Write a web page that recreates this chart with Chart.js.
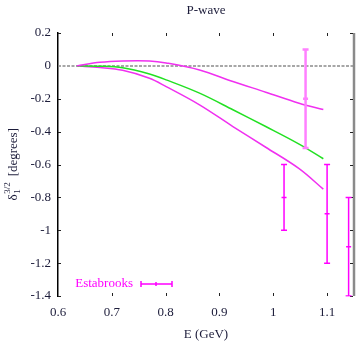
<!DOCTYPE html>
<html>
<head>
<meta charset="utf-8">
<script src="https://cdn.jsdelivr.net/npm/chart.js@4"></script>
<style>
  html, body { margin: 0; padding: 0; background: #fff; }
  #wrap { width: 360px; height: 346px; }
</style>
</head>
<body>
<div id="wrap"><canvas id="grafica" width="360" height="346"></canvas></div>
<script>
// datos
const energias = [0.635, 0.678, 0.72, 0.77, 0.801, 0.863, 0.925, 0.986, 1.048, 1.093];
const curvaSuperior = [0, 0.022, 0.03, 0.03, 0.018, -0.025, -0.095, -0.16, -0.227, -0.266];
const curvaCentral = [0, -0.002, -0.012, -0.05, -0.085, -0.166, -0.267, -0.369, -0.476, -0.565];
const curvaInferior = [0, -0.01, -0.027, -0.075, -0.126, -0.237, -0.369, -0.495, -0.625, -0.75];

// Estabrooks (centro y error)
const estE = [1.02, 1.06, 1.10, 1.14];
const estDelta = [-0.8, -0.2, -0.9, -1.1];
const estError = [0.2, 0.3, 0.3, 0.3];

const ejeX = { min: 0.6, max: 1.15, paso: 0.1 };
const ejeY = { min: -1.4, max: 0.2, paso: 0.2 };

const fuente = "'Liberation Serif', 'Times New Roman', serif";

function puntos(xs, ys) {
    return xs.map((x, i) => ({ x: x, y: ys[i] }));
}

function etiqueta(v) {
    const r = Math.round(v * 10) / 10;
    if (Math.abs(v - r) > 1e-6) return null;
    return String(r);
}

// dibuja textos, linea cero, ticks y barras de error
const extras = {
    id: 'extras',
    beforeDatasetsDraw(chart) {
        const { ctx, chartArea: a, scales: { x, y } } = chart;
        ctx.save();
        // linea en cero
        const y0 = y.getPixelForValue(0);
        ctx.strokeStyle = '#8a8a8a';
        ctx.lineWidth = 1.5;
        ctx.setLineDash([3, 1.5]);
        ctx.beginPath();
        ctx.moveTo(a.left, y0);
        ctx.lineTo(a.right, y0);
        ctx.stroke();
        ctx.setLineDash([]);

        // borde derecho gris
        ctx.strokeStyle = '#8a8a8a';
        ctx.lineWidth = 2.5;
        ctx.beginPath();
        ctx.moveTo(a.right, a.top);
        ctx.lineTo(a.right, a.bottom);
        ctx.stroke();

        // ticks hacia dentro
        ctx.strokeStyle = '#222';
        ctx.lineWidth = 1;
        ctx.beginPath();
        y.ticks.forEach(t => {
            const py = Math.round(y.getPixelForValue(t.value)) + 0.5;
            if (Math.abs(t.value) < 1e-6) return;
            ctx.moveTo(a.left, py); ctx.lineTo(a.left + 3, py);
            ctx.moveTo(a.right - 1, py); ctx.lineTo(a.right - 4, py);
        });
        x.ticks.forEach(t => {
            const px = Math.round(x.getPixelForValue(t.value)) + 0.5;
            if (px <= a.left + 1) return;
            ctx.moveTo(px, a.bottom); ctx.lineTo(px, a.bottom - 3);
            ctx.moveTo(px, a.top); ctx.lineTo(px, a.top + 3);
        });
        ctx.stroke();
        ctx.restore();
    },
    afterDatasetsDraw(chart) {
        const { ctx, chartArea: a, scales: { x, y } } = chart;
        ctx.save();
        ctx.beginPath();
        ctx.rect(a.left, a.top, a.right - a.left, a.bottom - a.top + 0.5);
        ctx.clip();
        estE.forEach((e, i) => {
            const px = x.getPixelForValue(e);
            const pc = y.getPixelForValue(estDelta[i]);
            const pa = y.getPixelForValue(estDelta[i] + estError[i]);
            const pb = y.getPixelForValue(estDelta[i] - estError[i]);
            ctx.strokeStyle = i === 1 ? '#ff80ff' : '#ff00ff';
            ctx.lineWidth = i === 1 ? 2.5 : 1.5;
            ctx.beginPath();
            ctx.moveTo(px, pa); ctx.lineTo(px, pb);
            ctx.moveTo(px - 3, pa); ctx.lineTo(px + 3, pa);
            ctx.moveTo(px - 3, pb); ctx.lineTo(px + 3, pb);
            ctx.moveTo(px - 2.5, pc); ctx.lineTo(px + 2.5, pc);
            ctx.stroke();
        });
        ctx.restore();

        ctx.save();
        // leyenda
        ctx.fillStyle = '#ff00ff';
        ctx.font = '13px ' + fuente;
        ctx.textAlign = 'right';
        ctx.textBaseline = 'middle';
        ctx.fillText('Estabrooks', 133, 284);
        ctx.strokeStyle = '#ff00ff';
        ctx.lineWidth = 1.5;
        ctx.beginPath();
        ctx.moveTo(141, 284); ctx.lineTo(172, 284);
        ctx.moveTo(141, 281); ctx.lineTo(141, 287);
        ctx.moveTo(172, 281); ctx.lineTo(172, 287);
        ctx.moveTo(156, 282); ctx.lineTo(156, 286);
        ctx.stroke();

        // titulos
        ctx.fillStyle = '#1c1c3a';
        ctx.textAlign = 'center';
        ctx.font = '13px ' + fuente;
        ctx.fillText('P-wave', (a.left + a.right) / 2, 11);
        ctx.fillText('E (GeV)', (a.left + a.right) / 2, 335);

        // titulo eje y rotado
        ctx.translate(13, (a.top + a.bottom) / 2);
        ctx.rotate(-Math.PI / 2);
        ctx.textAlign = 'left';
        ctx.textBaseline = 'alphabetic';
        const fGrande = '13px ' + fuente;
        const fChica = '9px ' + fuente;
        ctx.font = fGrande;
        const wD = ctx.measureText('δ').width;
        const wR = ctx.measureText('[degrees]').width;
        ctx.font = fChica;
        const wS = ctx.measureText('3/2').width;
        const total = wD + wS + 6 + wR;
        let cx = -total / 2;
        const base = 4;
        ctx.font = fGrande;
        ctx.fillText('δ', cx, base);
        cx += wD + 0.5;
        ctx.font = fChica;
        ctx.fillText('1', cx, base + 3);
        ctx.fillText('3/2', cx, base - 7);
        cx += wS + 6;
        ctx.font = fGrande;
        ctx.fillText('[degrees]', cx, base);
        ctx.restore();
    }
};

new Chart(document.getElementById('grafica'), {
    type: 'scatter',
    data: {
        datasets: [
            { data: puntos(energias, curvaSuperior), borderColor: '#f030f0' },
            { data: puntos(energias, curvaCentral), borderColor: '#22e022' },
            { data: puntos(energias, curvaInferior), borderColor: '#f030f0' }
        ].map(d => Object.assign(d, {
            showLine: true,
            pointRadius: 0,
            borderWidth: 1.5,
            tension: 0.35
        }))
    },
    options: {
        responsive: false,
        animation: false,
        layout: { padding: { left: 0, right: 6, top: 33, bottom: 0 } },
        plugins: { legend: { display: false }, tooltip: { enabled: false } },
        scales: {
            x: {
                type: 'linear',
                min: ejeX.min,
                max: ejeX.max,
                afterFit: s => { s.height = 50; },
                grid: { display: false, drawTicks: false },
                border: { display: false },
                ticks: {
                    stepSize: ejeX.paso,
                    includeBounds: false,
                    padding: 9,
                    color: '#1c1c3a',
                    font: { family: fuente, size: 13 },
                    maxRotation: 0,
                    autoSkip: false,
                    callback: v => etiqueta(v)
                }
            },
            y: {
                type: 'linear',
                min: ejeY.min,
                max: ejeY.max,
                afterFit: s => { s.width = 58; },
                grid: { display: false, drawTicks: false },
                border: { display: true, color: '#000', width: 1.5 },
                ticks: {
                    stepSize: ejeY.paso,
                    padding: 7,
                    color: '#1c1c3a',
                    font: { family: fuente, size: 13 },
                    autoSkip: false,
                    callback: v => etiqueta(v)
                }
            }
        }
    },
    plugins: [extras]
});
</script>
</body>
</html>
